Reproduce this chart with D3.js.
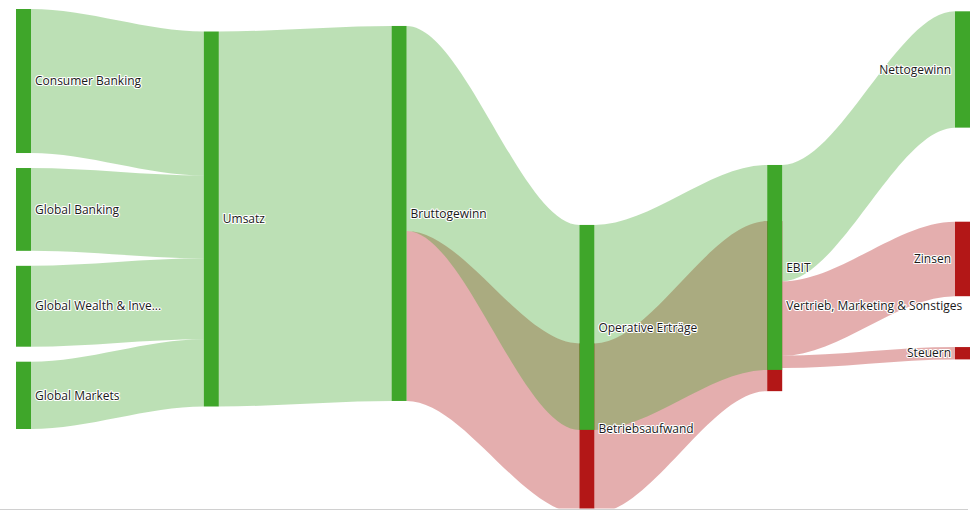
<!DOCTYPE html>
<html>
<head>
<meta charset="utf-8">
<script src="https://cdn.jsdelivr.net/npm/d3@7"></script>
<style>
  html, body { margin: 0; padding: 0; background: #ffffff; }
  svg { display: block; }
  .lbl { font-family: "Open Sans", sans-serif; font-size: 12px; fill: #1a1a1a;
         stroke: #ffffff; stroke-width: 2.2px; stroke-linejoin: round; paint-order: stroke; }
</style>
</head>
<body>
<div id="chart"></div>
<script>
// ---------------- data ----------------
const segments = ["Consumer Banking", "Global Banking", "Global Wealth & Investment Management", "Global Markets"];
const segmentValues = [10.40, 5.98, 5.84, 4.86];
const revenueNode = "Umsatz";

const flowFrom   = ["Umsatz", "Bruttogewinn", "Bruttogewinn", "Operative Erträge", "Betriebsaufwand", "EBIT", "EBIT", "EBIT"];
const flowTo     = ["Bruttogewinn", "Operative Erträge", "Betriebsaufwand", "EBIT", "Vertrieb, Marketing & Sonstiges", "Nettogewinn", "Zinsen", "Steuern"];
const flowValues = [27.08, 14.80, 12.28, 14.80, 12.28, 8.40, 5.38, 0.89];

const costNodes = ["Betriebsaufwand", "Vertrieb, Marketing & Sonstiges", "Zinsen", "Steuern"];

// ---------------- layout options (not data) ----------------
// vertical node offsets, expressed in value units (like a sankey node "offset" option)
const nodeOffsets = {
  "Bruttogewinn": -0.40,
  "Operative Erträge": 14.51,
  "Betriebsaufwand": 7.18,
  "EBIT": 10.18,
  "Vertrieb, Marketing & Sonstiges": -1.65,
  "Nettogewinn": -6.58,
  "Zinsen": -0.87,
  "Steuern": 1.72
};
const W = 980, H = 511;
const plot = { left: 16, right: 970, top: 9, height: 420, clipBottom: 508.5 };
const nodeWidth = 15, nodePadding = 15, curveFactor = 0.33;
const colors = { gain: "#3fa62a", cost: "#b31717", linkOpacity: 0.35 };

// ---------------- build graph ----------------
const links = [];
segments.forEach((s, i) => links.push({ source: s, target: revenueNode, value: segmentValues[i] }));
flowFrom.forEach((s, i) => links.push({ source: s, target: flowTo[i], value: flowValues[i] }));

const nodeMap = new Map();
const getNode = name => {
  if (!nodeMap.has(name)) nodeMap.set(name, { name, in: [], out: [], column: 0 });
  return nodeMap.get(name);
};
links.forEach(l => {
  l.s = getNode(l.source); l.t = getNode(l.target);
  l.s.out.push(l); l.t.in.push(l);
});
const nodes = Array.from(nodeMap.values());
// columns by longest path
let changed = true;
while (changed) {
  changed = false;
  links.forEach(l => { if (l.t.column < l.s.column + 1) { l.t.column = l.s.column + 1; changed = true; } });
}
nodes.forEach(n => {
  n.value = Math.max(d3.sum(n.in, l => l.value), d3.sum(n.out, l => l.value));
  n.cost = costNodes.includes(n.name);
});
const nCols = d3.max(nodes, n => n.column) + 1;
const columns = d3.range(nCols).map(c => nodes.filter(n => n.column === c));

// value -> pixel scale (fit the tightest column)
const k = d3.min(columns, col => (plot.height - (col.length - 1) * nodePadding) / d3.sum(col, n => n.value));
const hScale = d3.scaleLinear().domain([0, 1]).range([0, k]);
const xScale = d3.scalePoint().domain(d3.range(nCols)).range([plot.left, plot.right - nodeWidth]);

columns.forEach(col => {
  const colH = d3.sum(col, n => hScale(n.value)) + (col.length - 1) * nodePadding;
  let y = plot.top + (plot.height - colH) / 2;
  col.forEach(n => {
    n.x0 = xScale(n.column); n.x1 = n.x0 + nodeWidth;
    n.y0 = y + hScale(nodeOffsets[n.name] || 0);
    n.y1 = n.y0 + hScale(n.value);
    y += hScale(n.value) + nodePadding;
  });
});
// link positions within nodes
nodes.forEach(n => {
  let yo = n.y0; n.out.forEach(l => { l.sy0 = yo; yo += hScale(l.value); l.sy1 = yo; });
  let yi = n.y0; n.in.forEach(l => { l.ty0 = yi; yi += hScale(l.value); l.ty1 = yi; });
});

// ---------------- draw ----------------
const svg = d3.select("#chart").append("svg").attr("width", W).attr("height", H);
svg.append("rect").attr("width", W).attr("height", H).attr("fill", "#ffffff");
svg.append("defs").append("clipPath").attr("id", "plotclip")
  .append("rect").attr("x", 0).attr("y", 0).attr("width", W).attr("height", plot.clipBottom);
const g = svg.append("g").attr("clip-path", "url(#plotclip)");

function linkPath(l) {
  const fx = l.s.x1, tx = l.t.x0, c = (tx - fx) * curveFactor;
  const p = d3.path();
  p.moveTo(fx, l.sy0);
  p.bezierCurveTo(fx + c, l.sy0, tx - c, l.ty0, tx, l.ty0);
  p.lineTo(tx, l.ty1);
  p.bezierCurveTo(tx - c, l.ty1, fx + c, l.sy1, fx, l.sy1);
  p.closePath();
  return p.toString();
}
const sortedLinks = links.slice().sort((a, b) => (b.t.cost ? 1 : 0) - (a.t.cost ? 1 : 0));
g.append("g").selectAll("path").data(sortedLinks).join("path")
  .attr("d", linkPath)
  .attr("fill", l => l.t.cost ? colors.cost : colors.gain)
  .attr("fill-opacity", colors.linkOpacity);

const sortedNodes = nodes.slice().sort((a, b) => (b.cost ? 1 : 0) - (a.cost ? 1 : 0));
g.append("g").selectAll("rect").data(sortedNodes).join("rect")
  .attr("x", n => n.x0).attr("y", n => n.y0)
  .attr("width", nodeWidth).attr("height", n => n.y1 - n.y0)
  .attr("fill", n => n.cost ? colors.cost : colors.gain);

// labels
const maxLabelW = (xScale.step()) * 0.7;
const lg = svg.append("g");
nodes.forEach(n => {
  const last = n.column === nCols - 1;
  const t = lg.append("text").attr("class", "lbl")
    .attr("x", last ? n.x0 - 4 : n.x1 + 4)
    .attr("y", (n.y0 + n.y1) / 2)
    .attr("dy", "0.35em")
    .attr("text-anchor", last ? "end" : "start")
    .text(n.name);
  if (n.out.length && t.node().getComputedTextLength() > maxLabelW) {
    let s = n.name;
    while (s.length > 1) {
      s = s.slice(0, -1);
      t.text(s.trimEnd() + "...");
      if (t.node().getComputedTextLength() <= maxLabelW) break;
    }
  }
});

svg.append("line").attr("x1", 0).attr("x2", 968).attr("y1", 509.5).attr("y2", 509.5)
  .attr("stroke", "#d0d0d0").attr("stroke-width", 1);
</script>
</body>
</html>
